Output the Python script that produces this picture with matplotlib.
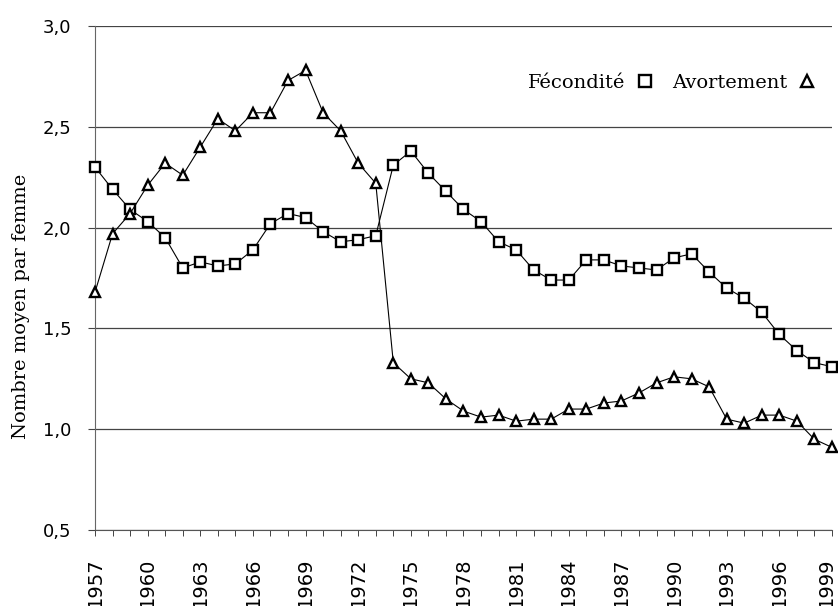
import matplotlib
matplotlib.use("Agg")
import matplotlib.pyplot as plt
import matplotlib.transforms as mtransforms
from matplotlib.lines import Line2D
from matplotlib.ticker import MultipleLocator, FixedLocator

years = list(range(1957, 2000))

fecondite = [2.30, 2.19, 2.09, 2.03, 1.95, 1.80, 1.83, 1.81, 1.82, 1.89,
             2.02, 2.07, 2.05, 1.98, 1.93, 1.94, 1.96, 2.31, 2.38, 2.27,
             2.18, 2.09, 2.03, 1.93, 1.89, 1.79, 1.74, 1.74, 1.84, 1.84,
             1.81, 1.80, 1.79, 1.85, 1.87, 1.78, 1.70, 1.65, 1.58, 1.47,
             1.39, 1.33, 1.31]

avortement = [1.68, 1.97, 2.07, 2.21, 2.32, 2.26, 2.40, 2.54, 2.48, 2.57,
              2.57, 2.73, 2.78, 2.57, 2.48, 2.32, 2.22, 1.33, 1.25, 1.23,
              1.15, 1.09, 1.06, 1.07, 1.04, 1.05, 1.05, 1.10, 1.10, 1.13,
              1.14, 1.18, 1.23, 1.26, 1.25, 1.21, 1.05, 1.03, 1.07, 1.07,
              1.04, 0.95, 0.91]

year_labels = list(range(1957, 2000, 3))
y_ticks = [0.5, 1.0, 1.5, 2.0, 2.5, 3.0]

serif = 'DejaVu Serif'
sans = 'DejaVu Sans'

fig = plt.figure(figsize=(8.38, 6.06), dpi=100)
ax = fig.add_axes([0.1134, 0.1254, 0.8794, 0.8316])

mk = dict(color='black', lw=0.8, markersize=7, markeredgewidth=1.7,
          markerfacecolor='white', markeredgecolor='black', clip_on=False, zorder=3)
ax.plot(years, fecondite, marker='s', **mk)
ax.plot(years, avortement, marker='^', **mk)

ax.set_xlim(1957, 1999)
ax.set_ylim(0.5, 3.0)

ax.xaxis.set_major_locator(FixedLocator(year_labels))
ax.xaxis.set_minor_locator(MultipleLocator(1))
ax.set_xticklabels([str(y) for y in year_labels], rotation=90,
                   fontsize=14, family=sans)
ax.tick_params(axis='x', which='both', direction='out', length=4, width=0.7,
               color='#444444', pad=16)
# last label sits on the figure edge, nudge it in a bit
last = ax.get_xticklabels()[-1]
last.set_transform(last.get_transform() +
                   mtransforms.ScaledTranslation(-6 / 100, 0, fig.dpi_scale_trans))

ax.set_yticks(y_ticks)
ax.set_yticklabels([f"{v:.1f}".replace('.', ',') for v in y_ticks],
                   fontsize=13, family=sans)
ax.tick_params(axis='y', direction='out', length=5, width=0.8,
               color='#444444', pad=12)

ax.grid(axis='y', color='#444444', lw=0.9)
ax.set_axisbelow(True)
for s in ['top', 'right']:
    ax.spines[s].set_visible(False)
ax.spines['left'].set_color('#666666')
ax.spines['left'].set_linewidth(0.8)
ax.spines['bottom'].set_color('#555555')
ax.spines['bottom'].set_linewidth(0.8)

ax.set_ylabel('Nombre moyen par femme', fontsize=14, family=serif)
ax.yaxis.set_label_coords(-0.088, 0.444)

handles = [Line2D([], [], ls='none', marker='s', markersize=8, markeredgewidth=1.7,
                  markerfacecolor='white', markeredgecolor='black'),
           Line2D([], [], ls='none', marker='^', markersize=8, markeredgewidth=1.7,
                  markerfacecolor='white', markeredgecolor='black')]
ax.legend(handles, ['Fécondité', 'Avortement'], ncol=2, markerfirst=False,
          frameon=False, loc='upper right', bbox_to_anchor=(0.99, 0.925),
          prop={'family': serif, 'size': 14}, handlelength=0.8,
          handletextpad=0.6, columnspacing=1.0, borderpad=0)

fig.savefig('out.png', dpi=100)
